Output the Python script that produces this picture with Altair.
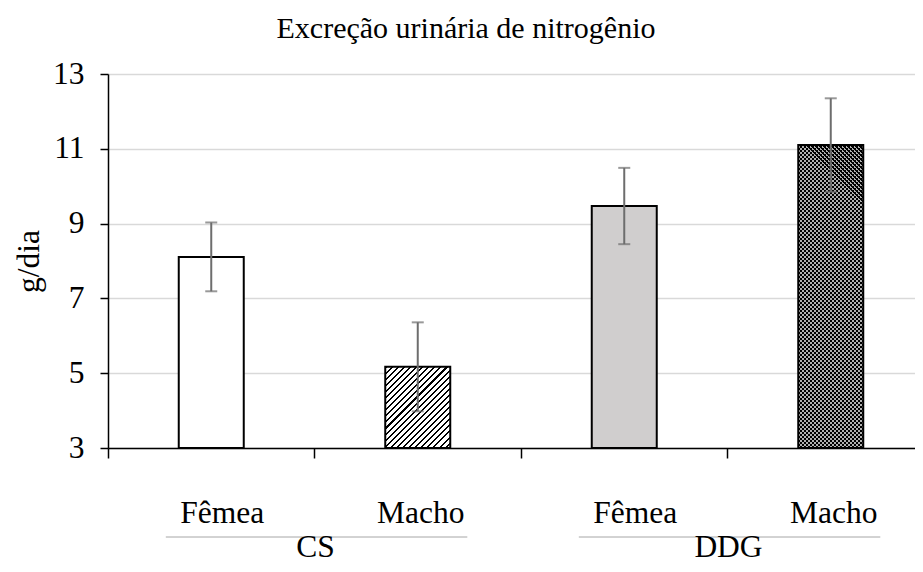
import altair as alt
import pandas as pd

# ---- data ----
title_text = ["Excreção urinária de nitrogênio"]
treat = ["CS", "CS", "DDG", "DDG"]
sex = ["Fêmea", "Macho", "Fêmea", "Macho"]
mean = [8.11, 5.17, 9.47, 11.10]
err = [0.92, 1.19, 1.02, 1.25]
y_ticks = [3, 5, 7, 9, 11, 13]
groups = ["CS", "DDG"]

cats = [t + "|" + s for t, s in zip(treat, sex)]
df = pd.DataFrame({"treat": treat, "sex": sex, "mean": mean, "err": err, "cat": cats})
df["lo"] = df["mean"] - df["err"]
df["hi"] = df["mean"] + df["err"]

gdf = pd.DataFrame({
    "group": groups,
    "start": [c for c in cats if c.endswith("Fêmea")],
    "end": [c for c in cats if c.endswith("Macho")],
})

W, H = 807, 374
XR = 826          # band range runs past the visible right edge
Y0, Y1 = 3, 13
BAR_W = 65
FONT = "Liberation Serif"
FS = 31.5
TFS = 30


def diag_gradient(w, h, period, frac, color, bg, direction="/"):
    r = h / w
    p = (1 + r) / (1 + r * r)
    q = r * p
    n = max(1, round((w + h) / period))
    if direction == "/":
        x1, y1, x2, y2 = 0, 0, p, q
    else:
        x1, y1, x2, y2 = 1, 0, 1 - p, q
    stops = []
    for i in range(n):
        a = i / n
        b = (i + frac) / n
        c = (i + 1) / n
        stops += [
            {"offset": a, "color": color},
            {"offset": b, "color": color},
            {"offset": b, "color": bg},
            {"offset": c, "color": bg},
        ]
    return {"gradient": "linear", "x1": x1, "y1": y1, "x2": x2, "y2": y2, "stops": stops}


def bar_h(v):
    return (v - Y0) * H / (Y1 - Y0)


xscale = alt.Scale(domain=cats, paddingInner=0, paddingOuter=0, range=[0, XR])
yscale = alt.Scale(domain=[Y0, Y1], nice=False, zero=False)

xaxis = alt.Axis(title="", labels=False, ticks=True, tickSize=10, tickColor="black",
                 tickWidth=1.5, domainColor="black", domainWidth=1.5, bandPosition=0,
                 grid=False)
yaxis = alt.Axis(title="g/dia", values=y_ticks, tickSize=8, tickColor="black", tickWidth=1.5,
                 domainColor="black", domainWidth=1.5, labelPadding=16, labelFont=FONT,
                 labelFontSize=FS, labelColor="black", titleFont=FONT, titleFontSize=FS,
                 titleFontWeight="normal", titleColor="black", titleX=-79, titleY=187,
                 titleBaseline="middle", grid=True, gridColor="#d9d9d9", gridWidth=1.5)

base = alt.Chart(df)
X = alt.X("cat:N", scale=xscale, axis=xaxis, sort=cats)

fills = base.mark_bar(width=BAR_W).encode(
    x=X,
    y=alt.Y("mean:Q", scale=yscale, axis=yaxis),
    y2=alt.datum(Y0),
    fill=alt.Fill("cat:N", scale=alt.Scale(domain=cats, range=["#ffffff", "#ffffff", "#d0cece", "#b0b0b0"]),
                  legend=None),
)

i2 = 1
hatch = base.transform_filter(alt.datum.cat == cats[i2]).mark_bar(
    width=BAR_W,
    fill=diag_gradient(BAR_W, bar_h(mean[i2]), 6.0, 0.33, "#000000", "#ffffff", "/"),
).encode(x=alt.X("cat:N", scale=xscale, title=""), y=alt.Y("mean:Q", scale=yscale, title=""), y2=alt.datum(Y0))

i4 = 3
cross1 = base.transform_filter(alt.datum.cat == cats[i4]).mark_bar(
    width=BAR_W,
    fill=diag_gradient(BAR_W, bar_h(mean[i4]), 4.0, 0.3, "#000000", "rgba(0,0,0,0)", "/"),
).encode(x=alt.X("cat:N", scale=xscale, title=""), y=alt.Y("mean:Q", scale=yscale, title=""), y2=alt.datum(Y0))
cross2 = base.transform_filter(alt.datum.cat == cats[i4]).mark_bar(
    width=BAR_W,
    fill=diag_gradient(BAR_W, bar_h(mean[i4]), 4.0, 0.3, "#000000", "rgba(0,0,0,0)", "\\"),
).encode(x=alt.X("cat:N", scale=xscale, title=""), y=alt.Y("mean:Q", scale=yscale, title=""), y2=alt.datum(Y0))

outline = base.mark_bar(width=BAR_W, fillOpacity=0, stroke="black", strokeWidth=2).encode(
    x=alt.X("cat:N", scale=xscale, title=""), y=alt.Y("mean:Q", scale=yscale, title=""), y2=alt.datum(Y0)
)

ebar = base.mark_rule(color="#6d6d6d", strokeWidth=2).encode(
    x=alt.X("cat:N", scale=xscale, title=""), y=alt.Y("lo:Q", scale=yscale, title=""), y2="hi:Q"
)
cap_lo = base.mark_tick(color="#6d6d6d", size=12, thickness=2).encode(
    x=alt.X("cat:N", scale=xscale, title=""), y=alt.Y("lo:Q", scale=yscale, title="")
)
cap_hi = base.mark_tick(color="#6d6d6d", size=12, thickness=2).encode(
    x=alt.X("cat:N", scale=xscale, title=""), y=alt.Y("hi:Q", scale=yscale, title="")
)

lab_f = base.transform_filter(alt.datum.sex == "Fêmea").mark_text(
    font=FONT, fontSize=FS, baseline="alphabetic", color="black", dx=11
).encode(x=alt.X("cat:N", scale=xscale, title=""), y=alt.value(449), text="sex:N")
lab_m = base.transform_filter(alt.datum.sex == "Macho").mark_text(
    font=FONT, fontSize=FS, baseline="alphabetic", color="black", dx=3
).encode(x=alt.X("cat:N", scale=xscale, title=""), y=alt.value(449), text="sex:N")

gbase = alt.Chart(gdf)
glines = gbase.mark_rule(color="#a6a6a6", strokeWidth=1).encode(
    x=alt.X("start:N", scale=xscale, title="", bandPosition=0.28),
    x2=alt.X2("end:N", bandPosition=0.74),
    y=alt.value(463),
)
glabels = gbase.mark_text(font=FONT, fontSize=FS, baseline="alphabetic", color="black", dx=1).encode(
    x=alt.X("end:N", scale=xscale, title="", bandPosition=0),
    y=alt.value(483),
    text="group:N",
)

title = alt.Chart(pd.DataFrame({"t": title_text})).mark_text(
    font=FONT, fontSize=TFS, baseline="alphabetic", color="black", align="center"
).encode(x=alt.value(358), y=alt.value(-36), text="t:N")

chart = alt.layer(
    fills, hatch, cross1, cross2, outline, ebar, cap_lo, cap_hi, lab_f, lab_m, glines, glabels, title
).properties(
    width=W,
    height=H,
    autosize=alt.AutoSizeParams(type="none"),
    padding={"left": 100, "top": 66, "right": 0, "bottom": 116},
).configure_view(stroke=None).configure(background="white")

chart.save("out.html", embed_options={"renderer": "svg", "actions": False})
